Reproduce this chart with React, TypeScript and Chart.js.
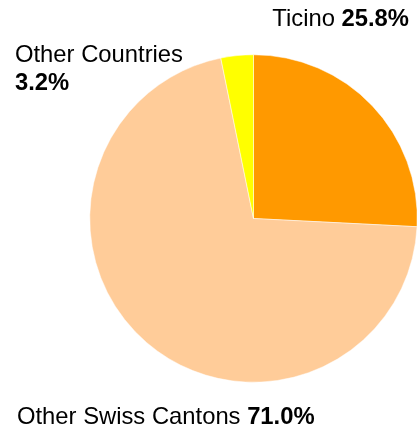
import React, { useEffect, useRef } from "react";
import { Chart, registerables } from "chart.js";

Chart.register(...registerables);

const categories = ["Ticino", "Other Swiss Cantons", "Other Countries"];
const shares = [25.8, 71.0, 3.2];
const colors = ["#FF9900", "#FFCC99", "#FFFF00"];

const FONT = "'Liberation Sans', Arial, sans-serif";
const SIZE = 23.8;

const labelPlugin = {
  id: "sliceLabels",
  afterDraw(chart: any) {
    const ctx = chart.ctx as CanvasRenderingContext2D;
    ctx.save();
    ctx.fillStyle = "#000";
    ctx.textBaseline = "alphabetic";
    const reg = `${SIZE}px ${FONT}`;
    const bold = `bold ${SIZE}px ${FONT}`;
    const pct = (v: number) => v.toFixed(1) + "%";

    // Ticino (right-aligned, top)
    {
      const name = categories[0] + " ";
      const val = pct(shares[0]);
      ctx.font = bold;
      const wv = ctx.measureText(val).width;
      ctx.font = reg;
      const wn = ctx.measureText(name).width;
      const right = 409;
      const y = 26;
      ctx.textAlign = "left";
      ctx.fillText(name, right - wv - wn, y);
      ctx.font = bold;
      ctx.fillText(val, right - wv, y);
    }
    // Other Countries (two lines, top-left)
    {
      ctx.textAlign = "left";
      ctx.font = reg;
      ctx.fillText(categories[2], 15, 62);
      ctx.font = bold;
      ctx.fillText(pct(shares[2]), 15, 90);
    }
    // Other Swiss Cantons (bottom)
    {
      ctx.textAlign = "left";
      const name = categories[1] + " ";
      ctx.font = reg;
      const wn = ctx.measureText(name).width;
      const x = 17;
      const y = 424;
      ctx.fillText(name, x, y);
      ctx.font = bold;
      ctx.fillText(pct(shares[1]), x + wn, y);
    }
    ctx.restore();
  },
};

export default function App() {
  const ref = useRef<HTMLCanvasElement | null>(null);
  useEffect(() => {
    if (!ref.current) return;
    const chart = new Chart(ref.current, {
      type: "pie",
      data: {
        labels: categories,
        datasets: [
          {
            data: shares,
            backgroundColor: colors,
            borderColor: "#ffffff",
            borderWidth: 0.5,
          },
        ],
      },
      options: {
        responsive: false,
        animation: false,
        layout: { padding: { left: 89.5, right: 12.5, top: 54.5, bottom: 47.5 } },
        plugins: {
          legend: { display: false },
          tooltip: { enabled: false },
          title: { display: false },
        },
      },
      plugins: [labelPlugin],
    });
    return () => chart.destroy();
  }, []);
  return (
    <div
      style={{
        position: "absolute",
        left: 0,
        top: 0,
        width: 417,
        height: 430,
        overflow: "hidden",
        background: "#fff",
      }}
    >
      <canvas ref={ref} width={430} height={430} style={{ width: 430, height: 430, display: "block" }} />
    </div>
  );
}
